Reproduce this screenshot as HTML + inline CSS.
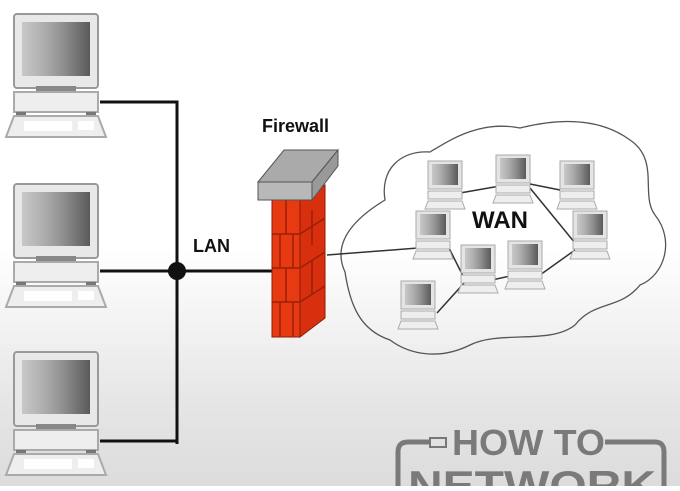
<!DOCTYPE html>
<html><head><style>
html,body{margin:0;padding:0}
body{width:680px;height:486px;overflow:hidden;background:linear-gradient(#fff 0,#fff 250px,#e6e6e6 400px,#dcdcdc 486px);font-family:"Liberation Sans",sans-serif}
</style></head><body>
<svg width="680" height="486" viewBox="0 0 680 486" xmlns="http://www.w3.org/2000/svg">
<defs>
<linearGradient id="scr" x1="0" x2="1">
<stop offset="0" stop-color="#c8c8c8"/><stop offset="0.3" stop-color="#b0b0b0"/><stop offset="0.6" stop-color="#909090"/><stop offset="1" stop-color="#5a5a5a"/>
</linearGradient>
<g id="pc">
<rect x="14" y="14" width="84" height="74" rx="3" fill="#e8e8e8" stroke="#999" stroke-width="2"/>
<rect x="22" y="22" width="68" height="54" fill="url(#scr)"/>
<rect x="36" y="86" width="40" height="6" fill="#888"/>
<rect x="14" y="92" width="84" height="20" fill="#eee" stroke="#aaa" stroke-width="2"/>
<rect x="16" y="112" width="10" height="3" fill="#777"/><rect x="86" y="112" width="10" height="3" fill="#777"/>
<path d="M14 116 L98 116 L106 137 L6 137 Z" fill="#eee" stroke="#aaa" stroke-width="2"/>
<rect x="24" y="121" width="48" height="10" fill="#fff"/><rect x="78" y="121" width="16" height="9" fill="#fff"/>
</g>
<g id="sp">
<rect x="-17" y="-22" width="34" height="28" fill="#e4e4e4" stroke="#aaa"/>
<rect x="-13" y="-19" width="26" height="21" fill="url(#scr)"/>
<rect x="-17" y="8" width="34" height="8" fill="#eee" stroke="#aaa"/>
<path d="M-17 18 L17 18 L20 26 L-20 26 Z" fill="#eee" stroke="#aaa"/>
</g>
</defs>
<g stroke="#111" stroke-width="3" fill="none">
<path d="M100 102 H177 V444"/>
<path d="M100 271 H272"/>
<path d="M100 441 H177"/>
</g>
<circle cx="177" cy="271" r="9" fill="#111"/>
<use href="#pc"/>
<use href="#pc" y="170"/>
<use href="#pc" y="338"/>
<text x="193" y="252" font-size="18" font-weight="bold" fill="#111">LAN</text>
<text x="262" y="132" font-size="18" font-weight="bold" fill="#111">Firewall</text>
<path d="M300 200 L325 185 L325 318 L300 337 Z" fill="#d8300e" stroke="#8a1c08"/>
<rect x="272" y="200" width="28" height="137" fill="#e83a12" stroke="#8a1c08"/>
<g stroke="#9a2008" stroke-width="1.5">
<path d="M272 234 H300 M272 268 H300 M272 302 H300 M286 200 V234 M286 268 V302 M293 234 V268 M280 234 V268 M293 302 V337 M280 302 V337"/>
<path d="M300 234 L325 218 M300 268 L325 252 M300 302 L325 286 M312 210 V245 M312 260 V295"/>
</g>
<path d="M258 182 L284 150 L338 150 L312 182 Z" fill="#aaa" stroke="#555"/>
<path d="M312 182 L338 150 L338 166 L312 200 Z" fill="#999" stroke="#555"/>
<rect x="258" y="182" width="54" height="18" fill="#b8b8b8" stroke="#555"/>
<path d="M345 272 C330 240 360 215 385 200 C380 170 400 150 430 152 C450 140 480 120 520 128 C560 118 600 118 630 140 C660 160 640 195 655 215 C675 240 665 275 640 285 C620 310 595 300 575 325 C550 345 500 330 470 345 C440 360 410 355 390 340 C360 330 350 305 345 272 Z" fill="none" stroke="#555" stroke-width="1.3"/>
<g stroke="#333" stroke-width="1.5" fill="none">
<path d="M327 255 L418 248"/>
<path d="M460 193 L500 186 M530 184 L560 190 M530 188 L575 243 M448 246 L465 280 M492 280 L510 276 M540 275 L575 250 M465 282 L437 313"/>
</g>
<use href="#sp" x="445" y="183"/>
<use href="#sp" x="513" y="177"/>
<use href="#sp" x="577" y="183"/>
<use href="#sp" x="433" y="233"/>
<use href="#sp" x="590" y="233"/>
<use href="#sp" x="478" y="267"/>
<use href="#sp" x="525" y="263"/>
<use href="#sp" x="418" y="303"/>
<text x="472" y="228" font-size="24" font-weight="bold" fill="#111">WAN</text>
<g fill="none" stroke="#7a7a7a" stroke-width="5">
<path d="M398 486 V452 Q398 442 408 442 H430"/>
<path d="M605 442 H655 Q664 442 664 452 V486"/>
</g>
<rect x="430" y="438" width="16" height="9" fill="none" stroke="#777" stroke-width="2"/>
<text x="452" y="455" font-size="36" font-weight="bold" fill="#7a7a7a" textLength="153" lengthAdjust="spacingAndGlyphs">HOW TO</text>
<text x="408" y="500" font-size="42" font-weight="bold" fill="#7a7a7a" textLength="248" lengthAdjust="spacingAndGlyphs">NETWORK</text>
</svg>
</body></html>
